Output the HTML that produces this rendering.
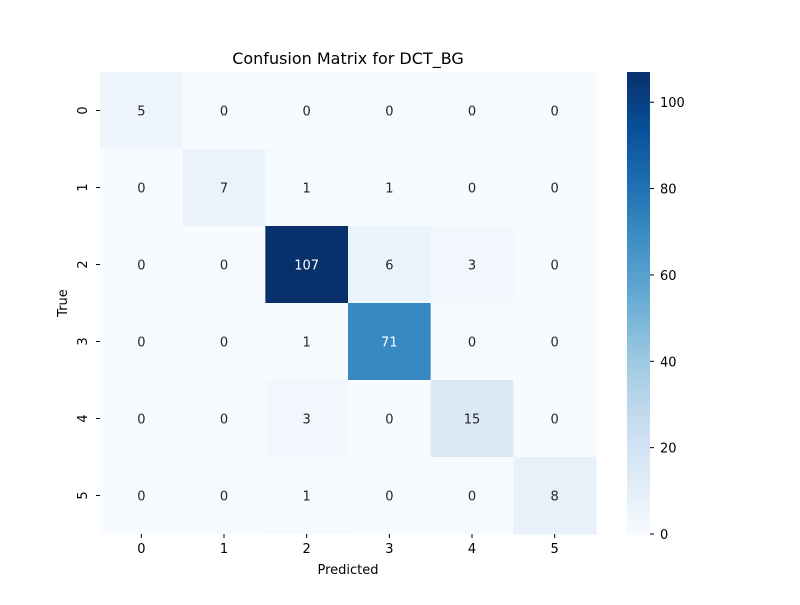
<!DOCTYPE html>
<html><head><meta charset="utf-8"><style>
body{margin:0;background:#fff;font-family:"Liberation Sans","DejaVu Sans",sans-serif;}
</style></head><body>
<svg id="chart" width="800" height="600" xmlns="http://www.w3.org/2000/svg" font-family="DejaVu Sans, Liberation Sans, sans-serif">
<rect width="800" height="600" fill="#fff"/>
<text x="348" y="64" text-anchor="middle" font-size="16">Confusion Matrix for DCT_BG</text>
<text x="348" y="574" text-anchor="middle" font-size="13">Predicted</text>
<text x="67" y="303" text-anchor="middle" font-size="13" transform="rotate(-90 67 303)">True</text>
<g id="cells"></g><g id="ticks"></g><g id="cbar"></g>
</svg>
<script>
const predictedLabels=["0","1","2","3","4","5"];
const trueLabels=["0","1","2","3","4","5"];
const matrix=[
[5,0,0,0,0,0],
[0,7,1,1,0,0],
[0,0,107,6,3,0],
[0,0,1,71,0,0],
[0,0,3,0,15,0],
[0,0,1,0,0,8]];
const cbarTicks=[0,20,40,60,80,100];
const NS="http://www.w3.org/2000/svg";
const X0=100,X1=596,Y0=72,Y1=534;
const vmax=Math.max(...matrix.flat()),vmin=0;
const cw=(X1-X0)/predictedLabels.length,ch=(Y1-Y0)/trueLabels.length;
const stops=["#f7fbff","#deebf7","#c6dbef","#9ecae1","#6baed6","#4292c6","#2171b5","#08519c","#08306b"].map(h=>[1,3,5].map(i=>parseInt(h.substr(i,2),16)));
function cmap(t){t=Math.max(0,Math.min(1,t));const p=t*8,i=Math.min(7,Math.floor(p)),f=p-i;return stops[i].map((c,k)=>c+(stops[i+1][k]-c)*f);}
function rgb(c){return `rgb(${c.map(Math.round).join(',')})`;}
function lum(c){const l=c.map(v=>{v/=255;return v<=0.03928?v/12.92:Math.pow((v+0.055)/1.055,2.4)});return 0.2126*l[0]+0.7152*l[1]+0.0722*l[2];}
function mk(t,a,p,txt){const e=document.createElementNS(NS,t);for(const k in a)e.setAttribute(k,a[k]);if(txt!==undefined)e.textContent=txt;p.appendChild(e);return e;}
const xs=i=>X0+i*cw,ys=j=>Y0+j*ch;
const cells=document.getElementById('cells'),ticks=document.getElementById('ticks'),cb=document.getElementById('cbar');
matrix.forEach((row,j)=>row.forEach((v,i)=>{
 const c=cmap((v-vmin)/(vmax-vmin));
 const r=mk('rect',{x:xs(i),y:ys(j),width:cw+0.5,height:ch+0.5,fill:rgb(c)},cells);
 
 
 const t=mk('text',{x:xs(i)+cw/2,y:ys(j)+ch/2+5,'text-anchor':'middle','font-size':13,fill:lum(c)>0.408?'#262626':'#fff'},cells,String(v));
 
 
}));
predictedLabels.forEach((l,i)=>{
 mk('line',{x1:xs(i)+cw/2,x2:xs(i)+cw/2,y1:Y1,y2:Y1+4,stroke:'#000'},ticks);
 const t=mk('text',{x:xs(i)+cw/2,y:Y1+19,'text-anchor':'middle','font-size':13},ticks,l);
 
 
});
trueLabels.forEach((l,j)=>{
 const y=ys(j)+ch/2;
 mk('line',{x1:X0-4,x2:X0,y1:y,y2:y,stroke:'#000'},ticks);
 const t=mk('text',{x:87,y:y,'text-anchor':'middle','font-size':13,transform:`rotate(-90 87 ${y})`},ticks,l);
 
 
});
const CX=627,CW=23,N=100;
for(let k=0;k<N;k++){
 const y1=Y1-(k+1)*(Y1-Y0)/N;
 mk('rect',{x:CX,y:y1,width:CW,height:(Y1-Y0)/N+0.6,fill:rgb(cmap((k+0.5)/N))},cb);
}
const cy=v=>Y1-(v-vmin)/(vmax-vmin)*(Y1-Y0);
cbarTicks.forEach(v=>{
 mk('line',{x1:CX+CW,x2:CX+CW+4,y1:cy(v),y2:cy(v),stroke:'#000'},cb);
 const t=mk('text',{x:CX+CW+10,y:cy(v)+5,'font-size':13},cb,String(v));
 
 
});
</script>
</body></html>
